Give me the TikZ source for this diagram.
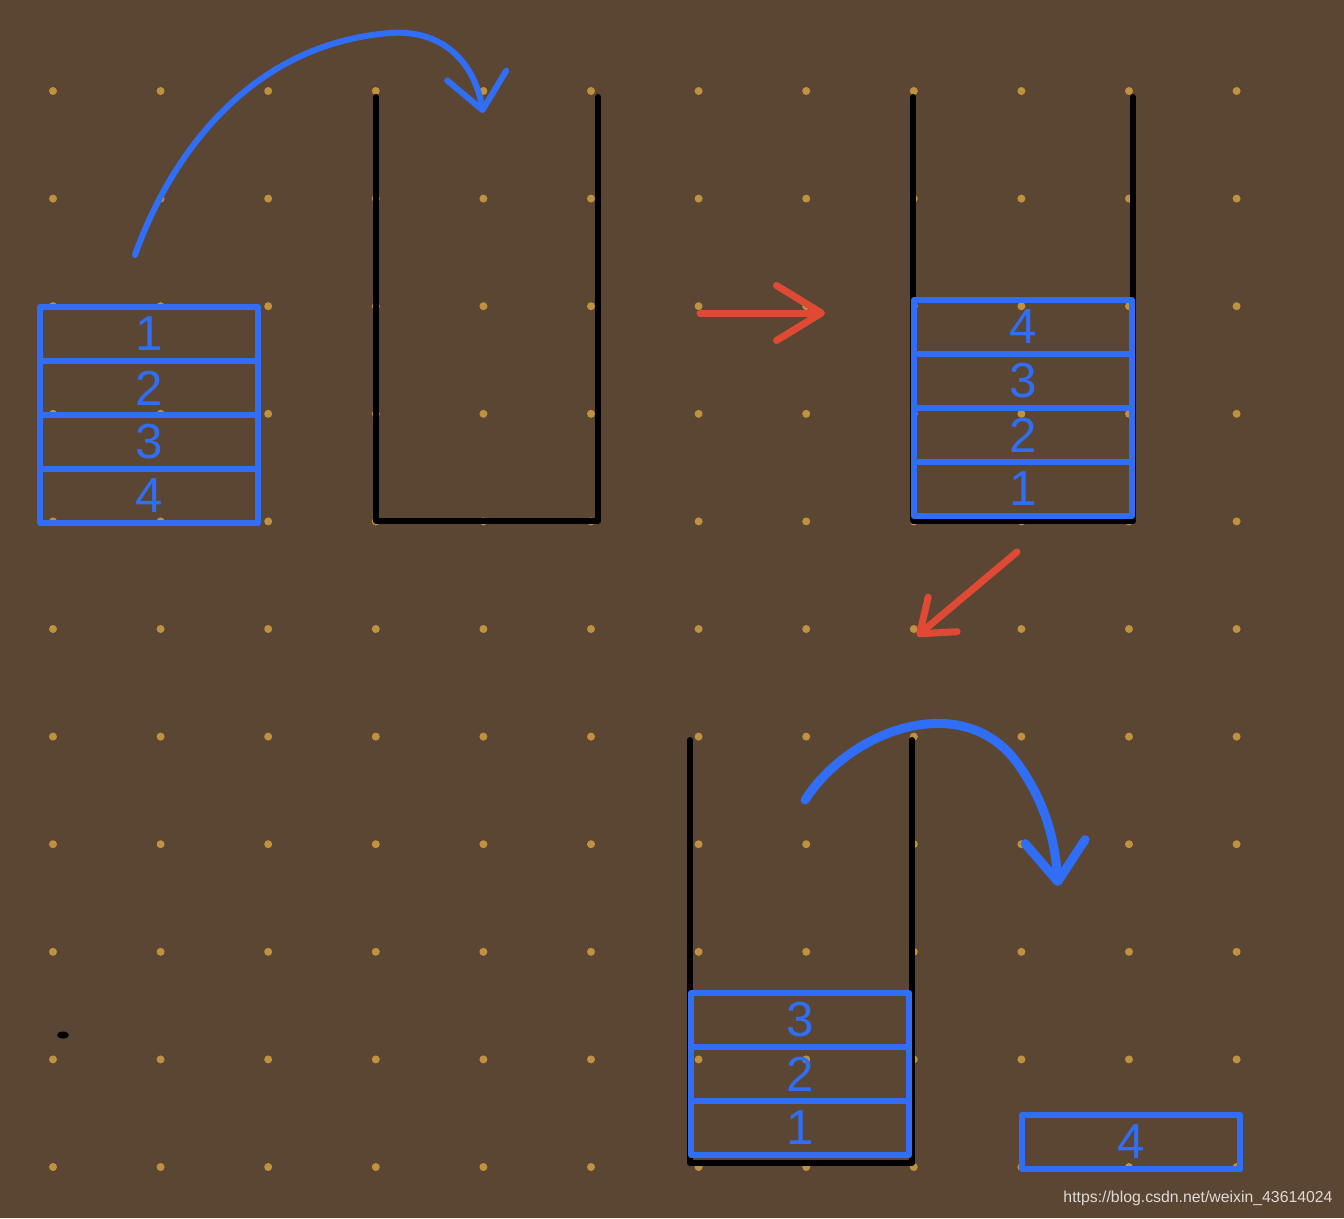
\documentclass[tikz,border=0pt]{standalone}
\usepackage{fontspec}
\setsansfont{Liberation Sans}
\usepackage{tikz}
\usetikzlibrary{arrows.meta, positioning}
\definecolor{board}{HTML}{5B4634}
\definecolor{pen}{HTML}{2F6EF5}
\definecolor{redpen}{HTML}{E04A35}
\definecolor{grid}{HTML}{C0913F}

\begin{document}
\begin{tikzpicture}[x=0.2mm, y=-0.2mm,
        cell/.style={draw=pen, line width=1.2mm, line join=round, minimum width=43.6mm,
            minimum height=10.8mm, inner sep=0pt, outer sep=0pt, text=pen,
            font=\sffamily\fontsize{28}{28}\selectfont},
        wall/.style={line width=1.2mm, line join=round, line cap=round},
        move/.style={draw=pen, line width=1.2mm, line cap=round,
            -{Straight Barb[round, length=7mm, width=12mm]}},
        next/.style={draw=redpen, line width=1.4mm, line cap=round,
            -{Straight Barb[round, length=9mm, width=11mm]}}]
        % board with dot grid
        \useasboundingbox (0,0) rectangle (1344,1218);
        \fill[board] (0,0) rectangle (1344,1218);
        \foreach \i in {0,...,11}
            \foreach \j in {0,...,10}
                \fill[grid] ({53+107.6*\i},{91+107.6*\j}) circle (0.8mm);
        \fill[black] (63,1035) ellipse (1.2mm and 0.7mm);

        % blocks before pushing
        \node[cell] (a1) at (149,334) {1};
        \node[cell, below=0pt of a1] (a2) {2};
        \node[cell, below=0pt of a2] (a3) {3};
        \node[cell, below=0pt of a3] (a4) {4};

        % empty stack
        \draw[wall] (376,97) -- (376,521) -- (598,521) -- (598,97);
        \coordinate (lift) at (135,255);
        \coordinate (drop) at (483,113);
        \draw[move] (lift) .. controls (165,170) and (240,45) .. (390,33)
            .. controls (445,29) and (475,65) .. (drop);

        % push done
        \coordinate (go1) at (700,313);
        \coordinate (go1end) at (825,313);
        \draw[next] (go1) -- (go1end);
        \draw[wall] (913,97) -- (913,521) -- (1133,521) -- (1133,97);
        \node[cell] (b4) at (1023,327) {4};
        \node[cell, below=0pt of b4] (b3) {3};
        \node[cell, below=0pt of b3] (b2) {2};
        \node[cell, below=0pt of b2] (b1) {1};

        % pop the top
        \coordinate (go2) at (1017,552);
        \coordinate (go2end) at (917,636);
        \draw[next, -{Straight Barb[round, length=6mm, width=9mm]}] (go2) -- (go2end);
        \draw[wall] (690,740) -- (690,1163) -- (912,1163) -- (912,740);
        \node[cell] (c3) at (800,1020) {3};
        \node[cell, below=0pt of c3] (c2) {2};
        \node[cell, below=0pt of c2] (c1) {1};
        \node[cell] (d4) at (1131,1142) {4};
        \coordinate (out) at (805,800);
        \coordinate (land) at (1058,886);
        \draw[move, line width=1.8mm, -{Straight Barb[round, length=8mm, width=12mm]}] (out)
            .. controls (850,730) and (960,690) .. (1015,760)
            .. controls (1045,800) and (1055,840) .. (land);

        \node[text=white!80!board, font=\sffamily\fontsize{9}{9}\selectfont] (mark) at (1198,1198) {https://blog.csdn.net/weixin\_43614024};
    \end{tikzpicture}
\end{document}
